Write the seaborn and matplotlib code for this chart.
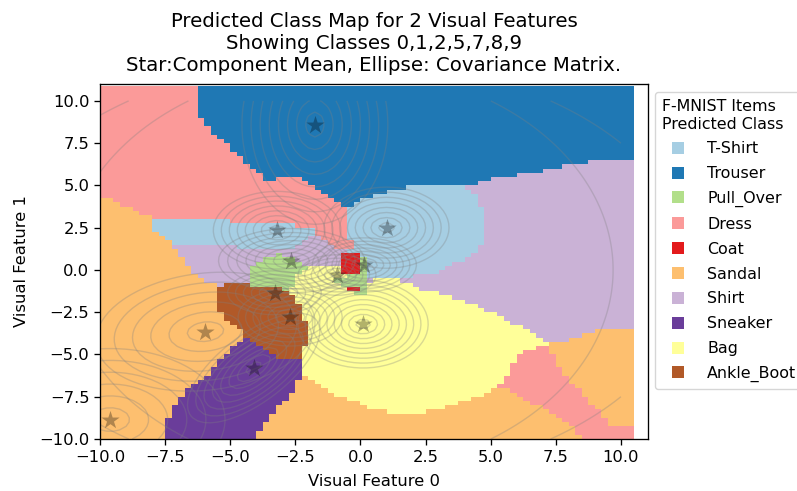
import numpy as np
import matplotlib
matplotlib.use("Agg")
import matplotlib.pyplot as plt
from matplotlib.colors import ListedColormap
from matplotlib.lines import Line2D
import seaborn as sns

plt.rcParams.update({"font.size": 11.8, "axes.linewidth": 0.95,
                     "xtick.major.size": 4.1, "ytick.major.size": 4.1,
                     "xtick.major.width": 0.95, "ytick.major.width": 0.95})

CLASS_NAMES = ["T-Shirt", "Trouser", "Pull_Over", "Dress", "Coat", "Sandal",
               "Shirt", "Sneaker", "Bag", "Ankle_Boot"]
CLASS_CODES = "TUPDCSHNBA"

# predicted class map: one string per row of the grid, top to bottom; each
# token is a class code followed by the x value where that class ends
MAP_ROWS = [
    "D-6.25 U10.5", "D-6.25 U10.5", "D-6.25 U10.5", "D-6.25 U10.5",
    "D-6.25 U10.5", "D-6.25 U10.5", "D-6.25 U10.5", "D-6.25 U10.5",
    "D-6 U10.5", "D-6 U10.5", "D-5.75 U10.5", "D-5.75 U10.5", "D-5.5 U10.5",
    "D-5.25 U10.5", "D-5 U10.5", "D-5 U10.5", "D-4.75 U10.5", "D-4.5 U10.5",
    "D-4.5 U8.75 H10.5", "D-4.25 U7.75 H10.5", "D-4 U7 H10.5", "D-3.75 U6 H10.5",
    "D-3.75 U-3.25 D-2.25 U5 H10.5", "D-2 U4.5 H10.5",
    "D-1.75 U1.75 T4 H10.5", "D-1.5 U1 T4.25 H10.5", "D-1.25 U.5 T4.5 H10.5",
    "S-9.5 D-1 U0 T4.5 H10.5", "S-9.25 D-.75 U-.25 T4.5 H10.5",
    "S-8.75 D-.5 T4.75 H10.5", "S-8.5 D-.5 T4.75 H10.5", "S-8 D-.5 T4.75 H10.5",
    "S-8 T-5 D-.5 T4.75 H10.5", "S-8 T-2.5 D-.5 T4.75 H10.5",
    "S-8 T-1.75 D-.5 T4.75 H10.5", "S-7.75 T-1.75 D-.5 T4.75 H10.5",
    "S-7.5 T-2 H-1.5 D-.5 T4.75 H10.5", "S-7.25 T-2.25 H-1.25 D-.25 T4.75 H10.5",
    "S-7.25 H-4.75 T-2.5 H-1 D-.25 T4.5 H10.5", "S-7 H-.5 T4.5 H10.5",
    "S-7 H-3.25 P-3 H-.75 C0 T4.25 H10.5",
    "S-6.75 H-3.75 P-2.5 H-.75 C0 P.25 T4 H10.5",
    "S-6.75 H-4 P-2.25 H-.75 C0 P.25 T3.5 H10.5",
    "S-6.5 H-4.25 P-2 B-.75 C0 P.25 T3.25 H10.5",
    "S-6.5 H-4.25 P-2.25 B-.75 C0 P.25 T3 H10.5",
    "S-6.25 H-4.25 P-2.5 B-.5 P.25 T2 H10.5",
    "S-6 H-4.25 P-2.5 B-1 P.25 H.5 B1.5 H10.5",
    "S-5.5 H-5.25 A-4.25 P-2.5 B-.75 P.25 B2 H10.5",
    "S-5.5 A-3 P-2.75 B-.5 C0 P.25 B2.25 H10.5",
    "S-5.5 A-2.75 B-.25 P.25 B3 H10.5",
    "S-5.5 A-2.5 B3.5 H10.5", "S-5.5 A-2.5 B4 H10.5", "S-5.5 A-2.25 B4.5 H10.5",
    "S-5.5 A-2.25 B4.75 H10.5", "S-5.25 A-2.25 B5.25 H10.5",
    "S-5.25 A-2.25 B5.5 H10.5", "S-5 A-2 B5.75 H10.5", "S-4.75 A-2 B6.25 H10.5",
    "S-4.5 A-2 B6.5 H9 S10.5", "S-4.5 A-2 B6.75 H8.5 S10.5",
    "S-4.5 N-4.25 A-2 B7 H8 S10.5", "S-4.75 N-4 A-2 B7.25 S10.5",
    "S-5 N-3.75 A-2.25 B6.75 D7.25 S10.5", "S-5 N-3.5 A-2.25 B6.25 D7.25 S10.5",
    "S-5.25 N-3.25 A-2.25 B6 D7.5 S10.5", "S-5.5 N-2.25 B6 D7.5 S10.5",
    "S-5.5 N-2.25 B5.75 D7.5 S10.5", "S-5.75 N-2.25 B5.75 D7.75 S10.5",
    "S-5.75 N-2.25 B5.75 D7.75 S10.5", "S-6 N-2.25 S-2 B5.5 D8 S10.5",
    "S-6.25 N-2.5 S-1.75 B5.5 D8 S10.5", "S-6.5 N-2.5 S-1.5 B5.25 D8.25 S10.5",
    "S-6.75 N-2.5 S-1.25 B5 S5.75 D8.5 S10.5",
    "S-6.75 N-2.75 S-1 B4.75 S6 D8.5 S10.5",
    "S-7 N-2.75 S-.5 B4.25 S6.25 D8.75 S10.5",
    "S-7 N-3 S0 B3.75 S6.5 D8.75 S10.5",
    "S-7.25 N-3.25 S.25 B3.25 S7 D9 S10.5",
    "S-7.25 N-3.25 S1 B2.5 S7.25 D9.25 S10.5",
    "S-7.25 N-3.5 S7.5 D9.25 S10.5", "S-7.5 N-3.5 S7.75 D9.5 S10.5",
    "S-7.5 N-3.75 S8 D9.5 S10.5", "S-7.5 N-3.75 S8.25 D10.5",
    "S-7.5 N-4 S8.25 D10.5", "S-7.5 N-4 S8.5 D10.5",
]

# mixture component means (stars)
MEAN_X = [-1.75, -3.2, 1.0, -2.65, 0.15, -0.9, 0.1, -3.3, -2.7, -5.95, -4.1, -9.6]
MEAN_Y = [8.6, 2.35, 2.5, 0.55, 0.3, -0.3, -3.2, -1.35, -2.8, -3.65, -5.8, -8.85]
# outermost ring half axes, rotation in degrees, number of rings
RING_A = [2.8, 2.45, 2.4, 2.8, 2.0, 1.5, 2.5, 1.8, 2.0, 4.3, 3.8, 4.4]
RING_B = [5.9, 2.3, 2.4, 1.9, 1.6, 1.2, 2.6, 1.3, 1.7, 3.4, 1.6, 4.2]
RING_ANGLE = [0, 0, 0, 0, 0, 0, 0, 0, 0, 20, 55, 0]
RING_COUNT = [8, 8, 8, 8, 8, 6, 9, 6, 7, 6, 8, 6]
# very wide single rings with no visible star of their own
WIDE_X = [-0.8, -0.8]
WIDE_Y = [0.0, 0.0]
WIDE_A = [10.5, 13.5]
WIDE_B = [12.0, 12.5]

X_EDGES = np.arange(-10, 10.75, 0.25)
Y_EDGES = np.r_[np.arange(-10, 10.75 + 0.1, 0.25), 10.9]

paired = sns.color_palette("Paired", 12)
colours = [paired[i] for i in (0, 1, 2, 4, 5, 6, 8, 9, 10, 11)]

grid = np.zeros((len(MAP_ROWS), len(X_EDGES) - 1))
x_centres = (X_EDGES[:-1] + X_EDGES[1:]) / 2
for i, row in enumerate(MAP_ROWS[::-1]):
    start = -10.0
    for tok in row.split():
        end = float(tok[1:])
        grid[i, (x_centres >= start) & (x_centres < end)] = CLASS_CODES.index(tok[0])
        start = end

fig = plt.figure(figsize=(7.97, 4.91), dpi=100)
ax = fig.add_axes([100 / 797, 1 - 439 / 491, 548 / 797, 355 / 491])
ax.pcolormesh(X_EDGES, Y_EDGES, grid, cmap=ListedColormap(colours),
              vmin=-0.5, vmax=9.5, shading="flat")

gx, gy = np.meshgrid(np.arange(-10, 10.25, 0.25), np.arange(-10, 10.25, 0.25))


def rings(mx, my, a, b, angle, levels):
    t = np.deg2rad(angle)
    u = (gx - mx) * np.cos(t) + (gy - my) * np.sin(t)
    v = -(gx - mx) * np.sin(t) + (gy - my) * np.cos(t)
    ax.contour(gx, gy, np.sqrt((u / a) ** 2 + (v / b) ** 2), levels=levels,
               colors="gray", alpha=0.3, linewidths=1.0)


for mx, my, a, b, ang, n in zip(MEAN_X, MEAN_Y, RING_A, RING_B, RING_ANGLE, RING_COUNT):
    rings(mx, my, a, b, ang, np.arange(1, n + 1) / n)
for mx, my, a, b in zip(WIDE_X, WIDE_Y, WIDE_A, WIDE_B):
    rings(mx, my, a, b, 0, [1.0])

sns.scatterplot(x=MEAN_X, y=MEAN_Y, marker="*", s=190, color="black", alpha=0.3,
                linewidth=0, ax=ax, legend=False, zorder=5)

ax.set_xlim(-10, 11.04)
ax.set_ylim(-10, 11)
ax.set_xlabel("Visual Feature 0", labelpad=6.5)
ax.set_ylabel("Visual Feature 1", labelpad=7)
ax.set_title("Predicted Class Map for 2 Visual Features\nShowing Classes 0,1,2,5,7,8,9\n"
             "Star:Component Mean, Ellipse: Covariance Matrix.", fontsize=14.2, pad=9)

handles = [Line2D([], [], linestyle="none", marker="s", markersize=8.5, color=c,
                  markeredgewidth=0) for c in colours]
leg = fig.legend(handles, CLASS_NAMES, title="F-MNIST Items\nPredicted Class",
                 loc="upper left", bbox_to_anchor=(655 / 797, 1 - 92 / 491),
                 bbox_transform=fig.transFigure, borderaxespad=0, labelspacing=0.62,
                 fontsize=11.4, title_fontsize=11.4, handletextpad=0.85, borderpad=0.45)
leg._legend_box.align = "left"

fig.savefig("out.png", dpi=100)
